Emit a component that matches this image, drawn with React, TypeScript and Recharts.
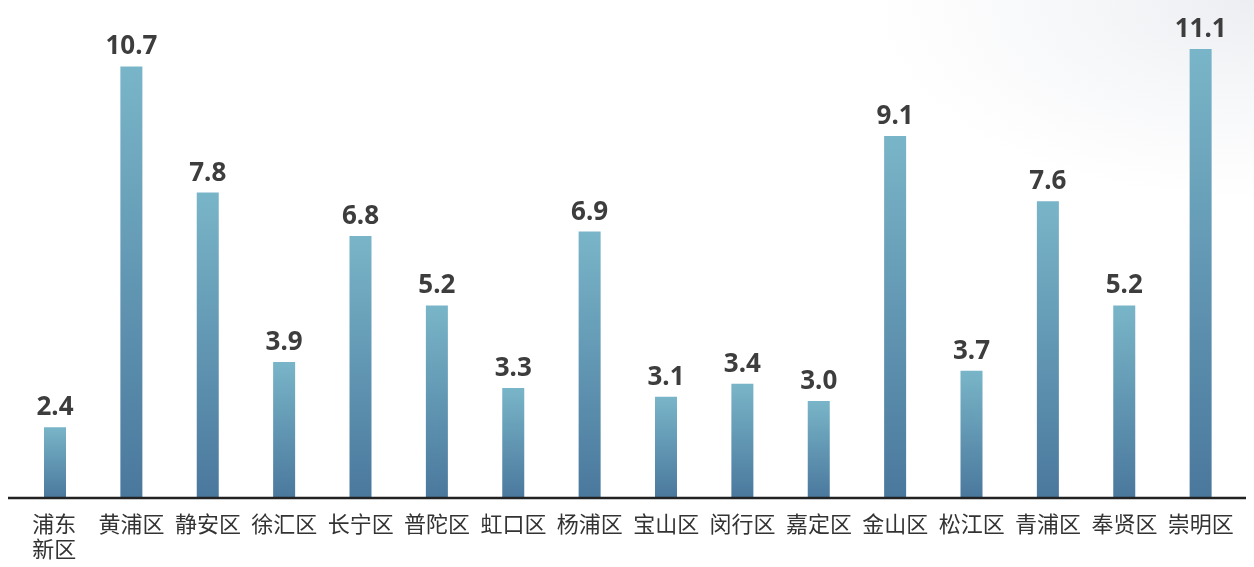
import { Bar, BarChart, LabelList, XAxis, YAxis } from "recharts";

const districts = [
  "浦东新区", "黄浦区", "静安区", "徐汇区", "长宁区", "普陀区", "虹口区", "杨浦区",
  "宝山区", "闵行区", "嘉定区", "金山区", "松江区", "青浦区", "奉贤区", "崇明区",
];
const values = [2.4, 10.7, 7.8, 3.9, 6.8, 5.2, 3.3, 6.9, 3.1, 3.4, 3.0, 9.1, 3.7, 7.6, 5.2, 11.1];

const data = districts.map((name, i) => ({ name, value: values[i] }));

const DistrictTick = (props: any) => {
  const { x, y, payload } = props;
  const text: string = payload.value;
  // band is ~76px, so four-character names go on two lines
  const lines = text.length > 3 ? [text.slice(0, 2), text.slice(2)] : [text];
  const left = lines.length > 1 ? x - 23 : x;
  return (
    <text
      x={left}
      y={y}
      textAnchor={lines.length > 1 ? "start" : "middle"}
      fill="#333"
      fontSize={22}
      fontFamily="'Noto Sans CJK SC', sans-serif"
    >
      {lines.map((l, i) => (
        <tspan key={i} x={left} dy={i === 0 ? 26 : 25}>
          {l}
        </tspan>
      ))}
    </text>
  );
};

const App = () => {
  return (
    <div style={{ width: 1246, height: 559, position: "relative" }}>
      {/* soft grey glow in the top-right corner of the page */}
      <div
        style={{
          position: "fixed",
          inset: 0,
          zIndex: -1,
          background:
            "radial-gradient(ellipse 380px 200px at 100% 0%, #eceef1 0%, #f6f7f9 45%, rgba(255,255,255,0) 100%), #ffffff",
        }}
      />
      <BarChart
        width={1246}
        height={559}
        data={data}
        margin={{ top: 2, right: 0, bottom: 0, left: 0 }}
        barSize={22}
      >
        <defs>
          <linearGradient id="barFill" x1="0" y1="0" x2="0" y2="1">
            <stop offset="0%" stopColor="#79b5c8" />
            <stop offset="100%" stopColor="#4a789d" />
          </linearGradient>
        </defs>
        <XAxis
          dataKey="name"
          interval={0}
          height={69}
          padding={{ left: 9, right: 15 }}
          axisLine={{ stroke: "#222", strokeWidth: 2.5 }}
          tickLine={false}
          tick={<DistrictTick />}
        />
        <YAxis hide domain={[0.77, 12]} allowDataOverflow />
        <Bar dataKey="value" fill="url(#barFill)" isAnimationActive={false}>
          <LabelList
            dataKey="value"
            position="top"
            offset={12}
            formatter={(v: any) => Number(v).toFixed(1)}
            fill="#3d3d3d"
            fontSize={26}
            fontWeight={700}
            fontFamily="'Noto Sans', sans-serif"
          />
        </Bar>
      </BarChart>
    </div>
  );
};

export default App;
